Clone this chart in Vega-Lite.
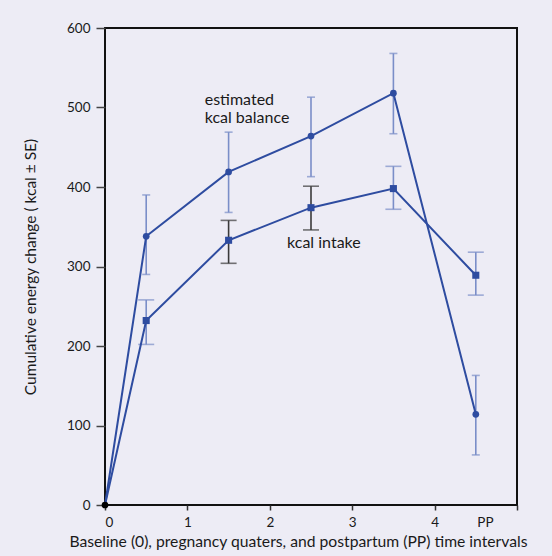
{
  "$schema": "https://vega.github.io/schema/vega-lite/v6.json",
  "width": 412,
  "height": 477,
  "autosize": {"type": "none"},
  "padding": {"left": 105, "top": 28, "right": 35, "bottom": 51},
  "background": "#edecf5",
  "config": {
    "view": {"stroke": "#111111", "strokeWidth": 2, "fill": "#edecf5"},
    "font": "Lato",
    "axis": {"grid": false, "domain": false, "labelFont": "Lato", "titleFont": "Lato", "labelColor": "#1a1a1a", "titleColor": "#1a1a1a", "titleFontWeight": "normal"}
  },
  "datasets": {
    "pts": [
      {"series": "balance", "t": 0, "v": 0, "lo": 0, "hi": 0},
      {"series": "balance", "t": 0.5, "v": 338, "lo": 290, "hi": 390},
      {"series": "balance", "t": 1.5, "v": 419, "lo": 368, "hi": 469},
      {"series": "balance", "t": 2.5, "v": 464, "lo": 413, "hi": 513},
      {"series": "balance", "t": 3.5, "v": 518, "lo": 467, "hi": 568},
      {"series": "balance", "t": 4.5, "v": 114, "lo": 63, "hi": 163},
      {"series": "intake", "t": 0, "v": 0, "lo": 0, "hi": 0},
      {"series": "intake", "t": 0.5, "v": 232, "lo": 202, "hi": 258},
      {"series": "intake", "t": 1.5, "v": 333, "lo": 304, "hi": 358},
      {"series": "intake", "t": 2.5, "v": 374, "lo": 346, "hi": 401},
      {"series": "intake", "t": 3.5, "v": 398, "lo": 372, "hi": 426},
      {"series": "intake", "t": 4.5, "v": 289, "lo": 264, "hi": 318}
    ],
    "notes": [
      {"label": ["estimated", "kcal balance"], "t": 1.21, "v": 509},
      {"label": ["kcal intake"], "t": 2.21, "v": 329}
    ]
  },
  "layer": [
    {
      "data": {"name": "pts"},
      "transform": [{"filter": "datum.t > 0"}],
      "mark": {"type": "rule", "strokeWidth": 1.6},
      "encoding": {
        "x": {"field": "t", "type": "quantitative", "scale": {"domain": [0, 5], "nice": false},
          "axis": {"values": [0, 1, 2, 3, 4, 5], "format": "d", "labelExpr": "datum.value == 5 ? 'PP' : datum.label",
            "labelOffset": {"condition": {"test": "datum.value == 5", "value": -24}, "value": 0},
            "tickSize": 5, "tickWidth": 1.5, "tickColor": "#333333", "labelFontSize": 13.5, "labelPadding": 5,
            "title": "Baseline (0), pregnancy quaters, and postpartum (PP) time intervals", "titleFontSize": 15.7, "titlePadding": 6, "titleX": 193}},
        "y": {"field": "lo", "type": "quantitative", "scale": {"domain": [0, 600], "nice": false},
          "axis": {"values": [0, 100, 200, 300, 400, 500, 600], "tickSize": 9, "tickWidth": 1.5, "tickColor": "#444444", "labelFontSize": 13.5, "labelPadding": 6,
            "title": "Cumulative energy change ( kcal ± SE)", "titleFontSize": 15.5, "titlePadding": 28}},
        "y2": {"field": "hi"},
        "color": {"condition": {"test": "datum.series == 'intake' && (datum.t == 1.5 || datum.t == 2.5)", "value": "#3a3a3a"}, "value": "#7a8ec8"}
      }
    },
    {
      "data": {"name": "pts"},
      "transform": [{"filter": "datum.t > 0"}, {"fold": ["lo", "hi"], "as": ["end", "val"]}],
      "mark": {"type": "tick", "orient": "horizontal", "thickness": 1.6},
      "encoding": {
        "x": {"field": "t", "type": "quantitative"},
        "y": {"field": "val", "type": "quantitative"},
        "size": {"condition": {"test": "datum.series == 'intake'", "value": 16}, "value": 8},
        "color": {"condition": {"test": "datum.series == 'intake' && (datum.t == 1.5 || datum.t == 2.5)", "value": "#3a3a3a"}, "value": "#7a8ec8"}
      }
    },
    {
      "data": {"name": "pts"},
      "mark": {"type": "line", "color": "#2e4ca0", "strokeWidth": 2},
      "encoding": {
        "x": {"field": "t", "type": "quantitative"},
        "y": {"field": "v", "type": "quantitative"},
        "detail": {"field": "series"}
      }
    },
    {
      "data": {"name": "pts"},
      "transform": [{"filter": "!(datum.series == 'intake' && datum.t == 0)"}],
      "mark": {"type": "point", "filled": true, "opacity": 1},
      "encoding": {
        "x": {"field": "t", "type": "quantitative"},
        "y": {"field": "v", "type": "quantitative"},
        "shape": {"field": "series", "type": "nominal", "scale": {"domain": ["balance", "intake"], "range": ["circle", "square"]}, "legend": null},
        "size": {"condition": {"test": "datum.series == 'intake'", "value": 50}, "value": 45},
        "color": {"condition": {"test": "datum.t == 0", "value": "#000000"}, "value": "#2e4ca0"}
      }
    },
    {
      "data": {"name": "notes"},
      "mark": {"type": "text", "align": "left", "baseline": "middle", "fontSize": 16, "lineHeight": 18, "color": "#1a1a1a", "font": "Lato"},
      "encoding": {
        "x": {"field": "t", "type": "quantitative"},
        "y": {"field": "v", "type": "quantitative"},
        "text": {"field": "label"}
      }
    }
  ]
}
